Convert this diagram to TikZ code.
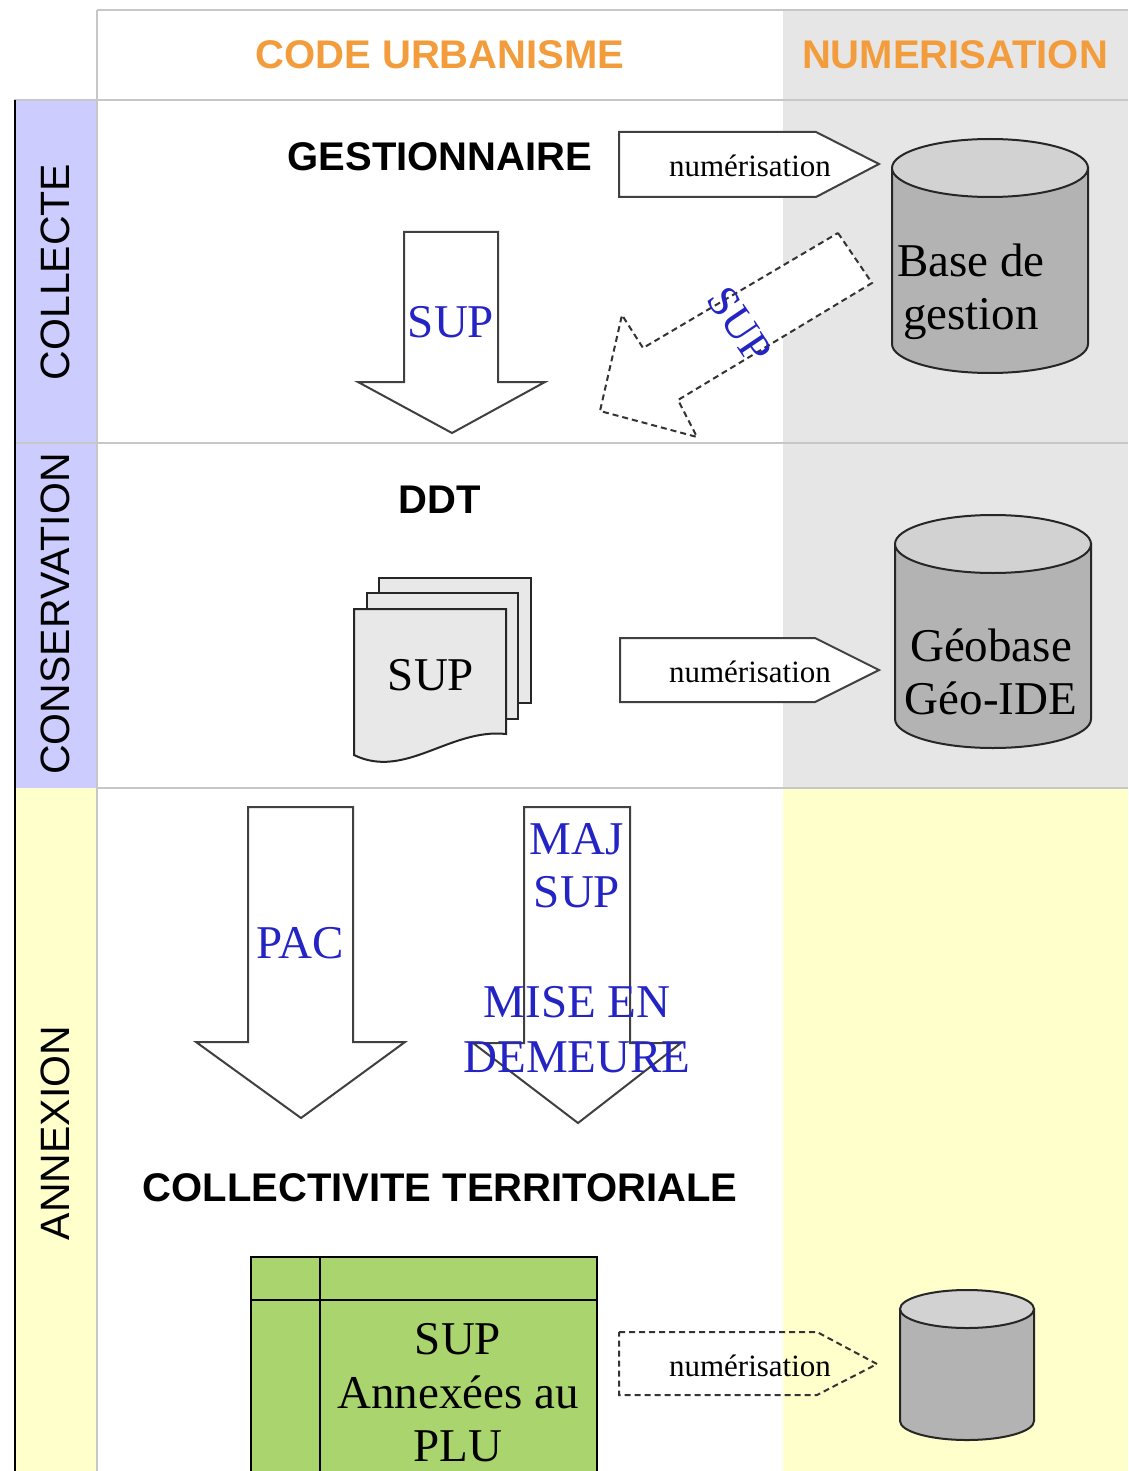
\documentclass[tikz,border=0pt]{standalone}
\usepackage{fontspec}
\setmainfont{Liberation Serif}
\newfontfamily\arialf{Liberation Sans}
\definecolor{graybg}{HTML}{E6E6E6}
\definecolor{yellowbg}{HTML}{FFFFCC}
\definecolor{lavbg}{HTML}{CCCCFF}
\definecolor{hdrorange}{HTML}{F39C3B}
\definecolor{supblue}{HTML}{2424C4}
\definecolor{cylgray}{HTML}{B3B3B3}
\definecolor{cyltopgray}{HTML}{D2D2D2}
\definecolor{pagegray}{HTML}{E8E8E8}
\definecolor{tablegreen}{HTML}{AAD46E}
\newcommand{\dbcyl}[6]{%
  \path[cylside] (#2-#5,#3) -- (#2-#5,#4) arc[start angle=180,end angle=360,x radius=#5pt,y radius=#6pt] -- (#2+#5,#3) -- cycle;
  \path[cyltop] (#2,#3) ellipse[x radius=#5pt,y radius=#6pt];
  \coordinate (#1) at (#2,{(#3+#4)/2});
}
\begin{document}
\begin{tikzpicture}[x=1pt,y=-1pt,
  hdr/.style={font=\arialf\bfseries\fontsize{40}{48}\selectfont,text=hdrorange,inner sep=0pt},
  actor/.style={font=\arialf\bfseries\fontsize{40}{48}\selectfont,text=black,inner sep=0pt},
  phase/.style={font=\arialf\fontsize{41}{48}\selectfont,rotate=90,inner sep=0pt},
  bigtxt/.style={font=\fontsize{47}{53}\selectfont,align=center,inner sep=0pt},
  bluetxt/.style={bigtxt,text=supblue},
  numtxt/.style={font=\fontsize{31}{36}\selectfont,inner sep=0pt},
  blockarrow/.style={fill=white,draw=black!75,line width=2pt,line join=miter},
  dasharrow/.style={draw=black!80,line width=2pt,dash pattern=on 6pt off 4pt},
  gridline/.style={draw=black!22,line width=1.8pt},
  cylside/.style={fill=cylgray,draw=black!85,line width=2pt},
  cyltop/.style={fill=cyltopgray,draw=black!85,line width=2pt},
  pagebox/.style={fill=pagegray,draw=black!85,line width=2pt}]
\useasboundingbox (0,0) rectangle (1128,1471);
% backgrounds
\fill[white] (0,0) rectangle (1128,1471);
\fill[graybg] (783,10) rectangle (1128,788);
\fill[yellowbg] (783,788) rectangle (1128,1471);
\fill[lavbg] (14,100) rectangle (97,788);
\fill[yellowbg] (14,788) rectangle (97,1471);
% grid lines
\draw[gridline] (97,10) -- (1128,10);
\draw[gridline] (97,10) -- (97,1471);
\draw[gridline] (14,100) -- (1128,100);
\draw[gridline] (14,443) -- (1128,443);
\draw[gridline] (97,788) -- (1128,788);
\draw[black,line width=2.5pt] (15,100) -- (15,1471);
% headers
\node[hdr] (hcode) at (440,55) {CODE URBANISME};
\node[hdr] (hnum) at (955,55) {NUMERISATION};
\node[phase] (pcol) at (55,272) {COLLECTE};
\node[phase] (pcons) at (55,614) {CONSERVATION};
\node[phase] (pann) at (55,1133) {ANNEXION};
% COLLECTE row
\node[actor] (gest) at (440,157) {GESTIONNAIRE};
\draw[blockarrow] (619,132) -- (816,132) -- (879,164) -- (816,197) -- (619,197) -- cycle;
\node[numtxt] (num1) at (750,166) {numérisation};
\dbcyl{cyl1}{990}{168}{344}{98}{29}
\node[bigtxt] (base) at (971,292) {Base de\\gestion};
\draw[blockarrow] (404,232) -- (498,232) -- (498,382) -- (545,382) -- (452,433) -- (358,382) -- (404,382) -- cycle;
\node[bluetxt] (sup1) at (451,322) {SUP};
\draw[dasharrow,fill=white] (838,233) -- (872,283) -- (678,400) -- (697,437) -- (600,411) -- (622,315) -- (643,348) -- cycle;
\node[bluetxt,font=\fontsize{44}{48}\selectfont,rotate=-56] (sup2) at (740,325) {SUP};
% CONSERVATION row
\node[actor] (ddt) at (440,500) {DDT};
\draw[pagebox] (379,578) rectangle (531,703);
\draw[pagebox] (367,593) rectangle (518,719);
\draw[pagebox] (354,609) -- (506,609) -- (506,734) .. controls (450,728) and (405,780) .. (354,755) -- cycle;
\node[bigtxt] (sup3) at (431,675) {SUP};
\draw[blockarrow] (620,638) -- (815,638) -- (879,670) -- (815,702) -- (620,702) -- cycle;
\node[numtxt] (num2) at (750,672) {numérisation};
\dbcyl{cyl2}{993}{544}{719}{98}{29}
\node[bigtxt] (geob) at (991,672) {Géobase\\Géo-IDE};
% ANNEXION row
\draw[blockarrow] (248,807) -- (353,807) -- (353,1042) -- (405,1042) -- (301,1118) -- (196,1042) -- (248,1042) -- cycle;
\node[bluetxt] (pac) at (300,943) {PAC};
\draw[blockarrow] (524,807) -- (630,807) -- (630,1043) -- (681,1043) -- (578,1123) -- (473,1043) -- (524,1043) -- cycle;
\node[bluetxt] (maj) at (577,866) {MAJ\\SUP};
\node[bluetxt,font=\fontsize{47}{55}\selectfont] (mise) at (577,1030) {MISE EN\\DEMEURE};
\node[actor] (coll) at (440,1188) {COLLECTIVITE TERRITORIALE};
\fill[tablegreen] (251,1257) rectangle (597,1471);
\draw[black,line width=2pt] (251,1471) -- (251,1257) -- (597,1257) -- (597,1471);
\draw[black,line width=2pt] (320,1257) -- (320,1471);
\draw[black,line width=2pt] (251,1300) -- (597,1300);
\node[bigtxt,font=\fontsize{47}{53.5}\selectfont] (plu) at (458,1393) {SUP\\Annexées au\\PLU};
\draw[dasharrow] (619,1332) -- (817,1332) -- (877,1364) -- (817,1395) -- (619,1395) -- cycle;
\node[numtxt] (num3) at (750,1366) {numérisation};
\dbcyl{cyl3}{967}{1309}{1421}{67}{19}
\end{tikzpicture}
\end{document}
